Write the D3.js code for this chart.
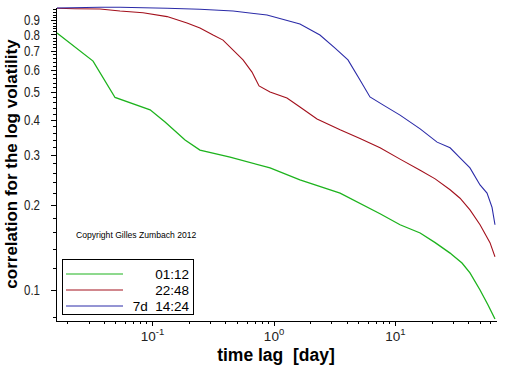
<!DOCTYPE html>
<html>
<head>
<meta charset="utf-8">
<script src="https://cdn.jsdelivr.net/npm/d3@7"></script>
<style>
  body { margin: 0; background: #fff; }
  svg { display: block; font-family: "Liberation Sans", Arial, sans-serif; }
</style>
</head>
<body>
<script>
// time lag in days / correlation, one pair of arrays per curve
const greenLag  = [0.0165, 0.0327, 0.0496, 0.0964, 0.128, 0.187, 0.248, 0.439, 0.936, 1.65, 3.53, 7.53, 11.0, 16.1, 21.4, 28.4, 35.6, 41.4, 50.1, 58.3, 66.5]
const greenCorr = [0.809, 0.644, 0.479, 0.433, 0.392, 0.339, 0.312, 0.295, 0.270, 0.245, 0.220, 0.186, 0.170, 0.159, 0.147, 0.135, 0.1245, 0.115, 0.100, 0.0885, 0.079]

const redLag  = [0.0165, 0.0232, 0.0373, 0.0545, 0.0843, 0.133, 0.194, 0.248, 0.318, 0.384, 0.561, 0.665, 0.760, 0.936, 1.29, 1.65, 2.28, 3.53, 5.15, 7.53, 11.0, 16.1, 21.4, 28.4, 34.3, 41.4, 50.1, 60.5, 66.5]
const redCorr = [0.990, 0.986, 0.984, 0.968, 0.954, 0.925, 0.878, 0.843, 0.796, 0.764, 0.650, 0.589, 0.526, 0.501, 0.477, 0.443, 0.402, 0.368, 0.343, 0.318, 0.290, 0.265, 0.247, 0.226, 0.211, 0.192, 0.170, 0.147, 0.131]

const blueLag  = [0.0165, 0.0373, 0.0545, 0.133, 0.248, 0.4645, 0.884, 1.65, 2.41, 3.21, 4.10, 5.15, 6.22, 7.96, 11.0, 16.1, 22.2, 28.4, 34.3, 41.4, 50.1, 57.2, 62.9, 66.5]
const blueCorr = [0.992, 0.998, 0.998, 0.990, 0.982, 0.968, 0.937, 0.871, 0.796, 0.716, 0.650, 0.552, 0.481, 0.451, 0.415, 0.371, 0.333, 0.318, 0.293, 0.270, 0.235, 0.220, 0.196, 0.170]

const seriesNames = ['01:12', '22:48', '7d  14:24']
const yMajor = [0.1, 0.2, 0.3, 0.4, 0.5, 0.6, 0.7, 0.8, 0.9]
const xMajor = [0.1, 1, 10]
const xExp = ['-1', '0', '1']

const config = {
  width: 512,
  height: 366,
  left: 56, right: 496, top: 7, bottom: 321,
  colors: ['#1db31d', '#a3101c', '#2b2ba8']
}

const svg = d3.select('body').append('svg')
  .attr('width', config.width)
  .attr('height', config.height)

const x = d3.scaleLog().domain([0.0162, 67.8]).range([config.left, config.right])
const y = d3.scaleLog().domain([0.0777, 1.0]).range([config.bottom, config.top])

// minor ticks
const xMinor = []
;[0.01, 0.1, 1, 10].forEach(d => {
  for (let k = 2; k <= 9; k++) {
    const v = d * k
    if (v >= x.domain()[0] && v <= x.domain()[1]) xMinor.push(v)
  }
})
const yMinor = []
for (let i = 4; i <= 50; i++) {
  if (i % 5 !== 0) yMinor.push(i * 0.02)
}

svg.append('g')
  .attr('transform', `translate(0,${config.bottom})`)
  .call(d3.axisBottom(x).tickValues(xMinor).tickSize(3).tickSizeOuter(0).tickFormat(''))
  .attr('shape-rendering', 'crispEdges')

const xAx = svg.append('g')
  .attr('transform', `translate(0,${config.bottom})`)
  .call(d3.axisBottom(x).tickValues(xMajor).tickSize(5).tickSizeOuter(0).tickPadding(5))
  .attr('shape-rendering', 'crispEdges')

xAx.selectAll('.tick text').each(function(d, i) {
  const t = d3.select(this).text('')
    .attr('font-size', 13.5)
    .attr('fill', '#222')
    .attr('font-family', '"Liberation Sans", Arial, sans-serif')
  t.append('tspan').text('10')
  t.append('tspan').attr('dy', -6).attr('font-size', 9.5).text(xExp[i])
})

svg.append('g')
  .attr('transform', `translate(${config.left},0)`)
  .call(d3.axisLeft(y).tickValues(yMinor).tickSize(3).tickSizeOuter(0).tickFormat(''))
  .attr('shape-rendering', 'crispEdges')

svg.append('g')
  .attr('transform', `translate(${config.left},0)`)
  .call(d3.axisLeft(y).tickValues(yMajor).tickSize(5).tickSizeOuter(0).tickPadding(11).tickFormat(d3.format('.1f')))
  .attr('shape-rendering', 'crispEdges')
  .selectAll('.tick text')
  .attr('font-size', 14.5)
  .attr('fill', '#222')
  .attr('textLength', 16)
  .attr('lengthAdjust', 'spacingAndGlyphs')
  .attr('font-family', '"Liberation Sans", Arial, sans-serif')

// curves
const line = d3.line().x(d => x(d[0])).y(d => y(d[1]))
const series = [
  d3.zip(greenLag, greenCorr),
  d3.zip(redLag, redCorr),
  d3.zip(blueLag, blueCorr)
]
series.forEach((s, i) => {
  svg.append('path')
    .datum(s)
    .attr('d', line)
    .attr('fill', 'none')
    .attr('stroke', config.colors[i])
    .attr('stroke-width', i === 0 ? 1.3 : 1.1)
})

// titles
svg.append('text')
  .attr('transform', 'translate(17,164) rotate(-90)')
  .attr('text-anchor', 'middle')
  .attr('font-size', 17)
  .attr('font-weight', 'bold')
  .text('correlation for the log volatility')

svg.append('text')
  .attr('x', 276)
  .attr('y', 361)
  .attr('text-anchor', 'middle')
  .attr('font-size', 17.5)
  .attr('font-weight', 'bold')
  .text('time lag  [day]')
  .style('white-space', 'pre')

svg.append('text')
  .attr('x', 76)
  .attr('y', 238)
  .attr('font-size', 8.6)
  .text('Copyright Gilles Zumbach 2012')

// legend
const legend = svg.append('g')
legend.append('rect')
  .attr('x', 62.5).attr('y', 259.5)
  .attr('width', 131).attr('height', 55)
  .attr('fill', 'none').attr('stroke', '#000')

seriesNames.forEach((name, i) => {
  const ly = 274 + i * 16
  legend.append('line')
    .attr('x1', 66).attr('x2', 123)
    .attr('y1', ly).attr('y2', ly)
    .attr('stroke', config.colors[i])
  legend.append('text')
    .attr('x', 189)
    .attr('y', ly + 5)
    .attr('text-anchor', 'end')
    .attr('font-size', 13.5)
    .style('white-space', 'pre')
    .text(name)
})
</script>
</body>
</html>
